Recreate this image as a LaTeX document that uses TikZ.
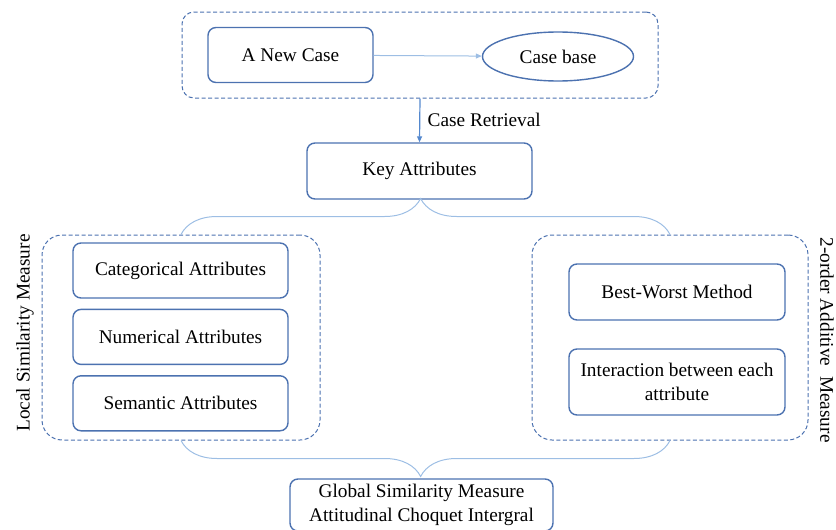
\documentclass[tikz,border=0pt]{standalone}
\usepackage{fontspec}
\setmainfont{Liberation Serif}
\usetikzlibrary{shapes.geometric, arrows.meta, positioning, decorations.pathreplacing}

\definecolor{edgeblue}{RGB}{76,114,176}
\definecolor{lineblue}{RGB}{157,190,228}
\definecolor{arrowblue}{RGB}{84,136,206}

\begin{document}
\begin{tikzpicture}[
    x=1pt, y=-1pt,
    every node/.style={font=\fontsize{19.3}{24}\selectfont},
    box/.style={rectangle, draw=edgeblue, line width=1.4pt, rounded corners=8pt, minimum width=215pt, minimum height=55pt, align=center, inner sep=2pt},
    casebase/.style={ellipse, draw=edgeblue, line width=1.4pt, minimum width=151pt, minimum height=49pt},
    group/.style={rectangle, draw=edgeblue, line width=1pt, dash pattern=on 4pt off 2.5pt, rounded corners=20pt},
    line/.style={draw=lineblue, line width=1pt},
    brace/.style={draw=lineblue, line width=1pt, decorate, decoration={brace, amplitude=36pt}}
]
    \clip (0,0) rectangle (836,530);

    % --- Case retrieval ---
    \node [group, minimum width=476pt, minimum height=86pt, rounded corners=12pt] (retrieval) at (420,55) {};
    \node [box, minimum width=165pt] (newcase) at (290.5,55) {A New Case};
    \node [casebase] (base) at (558,56.5) {Case base};
    \node [box, minimum width=225pt, minimum height=56pt] (key) at (419.5,171) {Key Attributes};

    % --- Local similarity measure ---
    \node [group, minimum width=278pt, minimum height=205pt] (local) at (181,337.5) {};
    \node [box] (categ) at (180.5,270.5) {Categorical Attributes};
    \node [box, below=10pt of categ] (numer) {Numerical Attributes};
    \node [box, below=10pt of numer] (seman) {Semantic Attributes};
    \node [rotate=90] (locallabel) at (25,333) {Local Similarity Measure};

    % --- 2-order additive measure ---
    \node [group, minimum width=276pt, minimum height=205pt] (additive) at (670,337.5) {};
    \node [box, minimum width=216pt, minimum height=56pt] (bwm) at (677,292) {Best-Worst Method};
    \node [box, minimum width=216pt, minimum height=66pt] (inter) at (677,382) {Interaction between each\\attribute};
    \node [rotate=-90] (addlabel) at (827,340) {2-order Additive\ \ Measure};

    % --- Global measure ---
    \node [box, minimum width=263pt, minimum height=52pt] (global) at (421.5,505) {Global Similarity Measure\\Attitudinal Choquet Intergral};

    % --- Connections ---
    \path [line, -{Triangle[length=6pt,width=5pt]}] (newcase) -- (base);
    \path [draw=arrowblue, line width=1.2pt, -{Triangle[length=6pt,width=5pt]}] (retrieval.south) -- node[right=4pt, yshift=1pt]{Case Retrieval} (key.north);

    % Braces
    \path [brace, decoration={aspect=0.49}] (local.north) -- (additive.north);
    \path [brace, decoration={aspect=0.51}] (additive.south) -- (local.south);

\end{tikzpicture}
\end{document}
